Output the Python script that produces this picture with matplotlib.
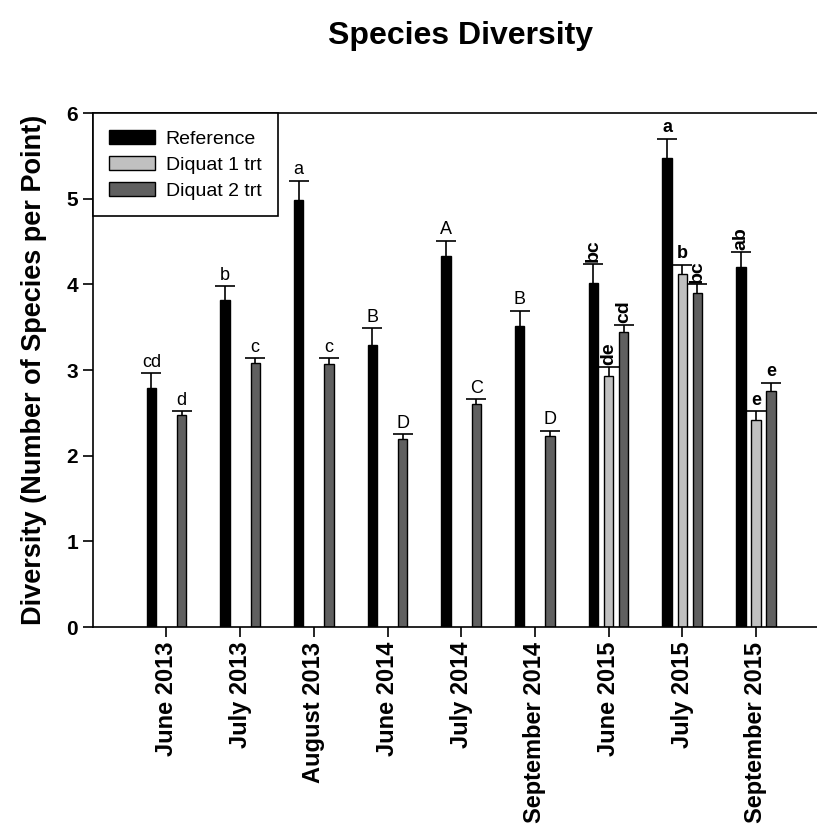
import numpy as np
import matplotlib.pyplot as plt

plt.rcParams['font.family'] = ['Liberation Sans', 'DejaVu Sans']

months = ['June 2013', 'July 2013', 'August 2013', 'June 2014', 'July 2014',
          'September 2014', 'June 2015', 'July 2015', 'September 2015']
reference = np.array([2.79, 3.82, 4.98, 3.29, 4.33, 3.51, 4.02, 5.48, 4.20])
reference_se = np.array([0.17, 0.16, 0.23, 0.20, 0.18, 0.18, 0.22, 0.22, 0.18])
# Diquat 1 trt only sampled in 2015
diquat1 = np.array([np.nan] * 6 + [2.93, 4.12, 2.42])
diquat1_se = np.array([np.nan] * 6 + [0.11, 0.11, 0.10])
diquat2 = np.array([2.47, 3.08, 3.07, 2.19, 2.60, 2.23, 3.44, 3.90, 2.76])
diquat2_se = np.array([0.05, 0.06, 0.07, 0.06, 0.06, 0.06, 0.09, 0.10, 0.09])

ref_letters = ['cd', 'b', 'a', 'B', 'A', 'B', 'bc', 'a', 'ab']
d1_letters = ['', '', '', '', '', '', 'de', 'b', 'e']
d2_letters = ['d', 'c', 'c', 'D', 'C', 'D', 'cd', 'bc', 'e']
ref_rot = [0, 0, 0, 0, 0, 0, 90, 0, 90]
d1_rot = [0, 0, 0, 0, 0, 0, 90, 0, 0]
d2_rot = [0, 0, 0, 0, 0, 0, 90, 90, 0]

x = np.arange(len(months))
w = 0.127
off = 0.205

fig = plt.figure(figsize=(8.17, 8.35), dpi=100)
ax = fig.add_axes([0.1135, 0.249, 0.902, 0.6156])

series = [
    (reference, reference_se, -off, '#000000', 'Reference', ref_letters, ref_rot),
    (diquat1, diquat1_se, 0.0, '#c0c0c0', 'Diquat 1 trt', d1_letters, d1_rot),
    (diquat2, diquat2_se, off, '#606060', 'Diquat 2 trt', d2_letters, d2_rot),
]

for vals, se, dx, col, lab, letters, rots in series:
    ax.bar(x + dx, vals, width=w, color=col, edgecolor='black', linewidth=1.0, label=lab)
    eb = ax.errorbar(x + dx, vals, yerr=[np.zeros_like(se), se], fmt='none',
                     ecolor='black', elinewidth=1.2, capsize=7, capthick=1.2)
    eb[1][0].set_visible(False)  # no cap on the lower side
    for i in range(len(x)):
        if letters[i] == '':
            continue
        top = vals[i] + se[i]
        bold = 'bold' if i >= 6 else 'normal'
        if rots[i] == 90:
            ax.text(x[i] + dx, top + 0.02, letters[i], rotation=90, ha='center', va='bottom',
                    fontsize=14, fontweight=bold)
        else:
            ax.text(x[i] + dx, top + 0.03, letters[i], ha='center', va='bottom',
                    fontsize=13, fontweight=bold)

ax.set_xlim(-1, 9)
ax.set_ylim(0, 6)
ax.set_xticks(x)
ax.set_xticklabels(months, rotation=90, fontsize=17, fontweight='bold')
ax.set_yticks(np.arange(0, 7, 1))
ax.set_yticklabels([str(v) for v in range(7)], fontsize=15, fontweight='bold')
ax.tick_params(direction='out', length=7, width=1.2)
for s in ax.spines.values():
    s.set_linewidth(1.2)
ax.spines['right'].set_visible(False)

ax.set_ylabel('Diversity (Number of Species per Point)', fontsize=19.5, fontweight='bold', labelpad=14)
fig.suptitle('Species Diversity', fontsize=23, fontweight='bold', x=0.564, y=0.975)

leg = ax.legend(loc='upper left', bbox_to_anchor=(0, 1), borderaxespad=0, fontsize=14,
                frameon=True, fancybox=False, edgecolor='black', handlelength=2.35,
                handleheight=0.8, handletextpad=0.55, labelspacing=0.4, borderpad=0.85)
leg.get_frame().set_linewidth(1.2)
leg.get_frame().set_alpha(1)

fig.savefig('out.png', dpi=100)
